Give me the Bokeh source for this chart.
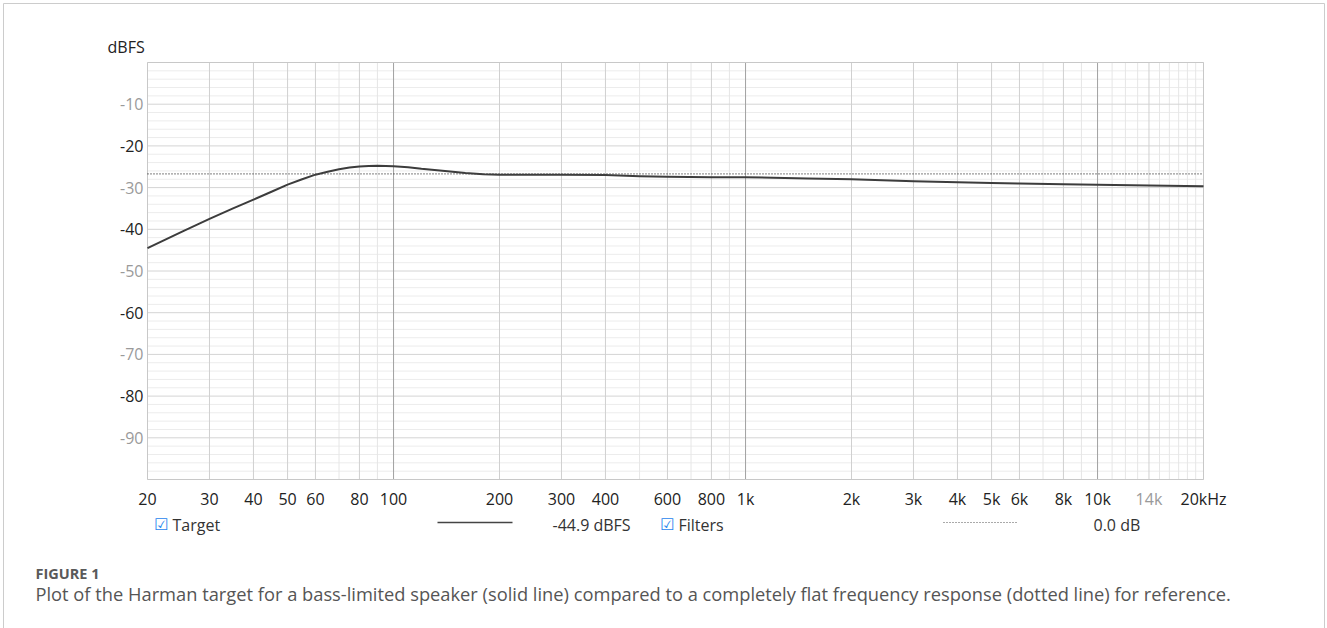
import math
from bokeh.plotting import figure
from bokeh.models import ColumnDataSource
from bokeh.core.properties import value
from bokeh.embed import file_html
from bokeh.resources import INLINE

# ---------------- data ----------------
freq_hz = [20, 25, 30, 35, 40, 45, 50, 55, 60, 65, 70, 75, 80, 85, 90, 95, 100,
           110, 120, 140, 160, 180, 200, 300, 400, 500, 600, 800, 1000, 1500,
           2000, 3000, 4000, 5000, 6000, 8000, 10000, 14000, 20000]
target_dbfs = [-44.5, -40.6, -37.5, -35.0, -32.9, -31.0, -29.3, -28.0, -26.9,
               -26.2, -25.6, -25.2, -24.95, -24.8, -24.75, -24.8, -24.9,
               -25.1, -25.5, -26.0, -26.5, -26.8, -26.9, -26.9, -27.0, -27.3,
               -27.4, -27.5, -27.5, -27.8, -28.0, -28.5, -28.7, -28.9, -29.0,
               -29.2, -29.3, -29.5, -29.7]
flat_freq = [20, 20000]
flat_dbfs = [-26.7, -26.7]

x_tick_values = [20, 30, 40, 50, 60, 80, 100, 200, 300, 400, 600, 800, 1000,
                 2000, 3000, 4000, 5000, 6000, 8000, 10000, 14000, 20000]
x_tick_labels = ["20", "30", "40", "50", "60", "80", "100", "200", "300", "400",
                 "600", "800", "1k", "2k", "3k", "4k", "5k", "6k", "8k", "10k",
                 "14k", "20kHz"]
x_tick_colors = ["#222222"] * 20 + ["#9a9a9a", "#222222"]
x_minor_values = [70, 90, 500, 700, 900, 7000, 9000, 11000, 12000, 13000,
                  15000, 16000, 17000, 18000, 19000]
x_decade_values = [100, 1000, 10000]

y_tick_values = [-10, -20, -30, -40, -50, -60, -70, -80, -90]
y_tick_labels = ["-10", "-20", "-30", "-40", "-50", "-60", "-70", "-80", "-90"]
y_tick_colors = ["#9a9a9a", "#222222"] * 4 + ["#9a9a9a"]
y_minor_values = [v for v in range(-98, 0, 2) if v % 10 != 0]

legend_texts = ["Target", "-44.9 dBFS", "Filters", "0.0 dB"]
caption_head = "FIGURE 1"
caption_text = ("Plot of the Harman target for a bass-limited speaker (solid line) "
                "compared to a completely flat frequency response (dotted line) for reference.")

# ---------------- layout ----------------
W, H = 1327, 628
FL, FR, FT, FB = 147, 1203, 62, 479          # plot-area pixel box
X0, X1, Y0, Y1 = 20.0, 20000.0, -100.0, 0.0  # plot-area data box
dec_px = (FR - FL) / math.log10(X1 / X0)
db_px = (FB - FT) / (Y1 - Y0)


def fx(px):
    return X0 * 10 ** ((px - FL) / dec_px)


def fy(py):
    return Y1 - (py - FT) / db_px


FONT = value("Open Sans")

p = figure(width=W, height=H, x_axis_type="log",
           x_range=(fx(0), fx(W)), y_range=(fy(H), fy(0)),
           output_backend="svg", toolbar_location=None,
           min_border=0, min_border_left=0, min_border_right=0,
           min_border_top=0, min_border_bottom=0)
p.xaxis.visible = False
p.yaxis.visible = False
p.xgrid.visible = False
p.ygrid.visible = False
p.outline_line_color = None
p.background_fill_color = "white"
p.border_fill_color = "white"


def vlines(ticks, color):
    p.segment(x0=ticks, x1=ticks, y0=[Y0] * len(ticks), y1=[Y1] * len(ticks),
              line_color=color, line_width=1)


def hlines(ticks, color):
    p.segment(x0=[X0] * len(ticks), x1=[X1] * len(ticks), y0=ticks, y1=ticks,
              line_color=color, line_width=1)


# grids
hlines(y_minor_values, "#ececec")
vlines(x_minor_values, "#e6e6e6")
hlines(y_tick_values, "#d4d4d4")
vlines(x_tick_values, "#d0d0d0")
vlines(x_decade_values, "#a4a4a4")
# plot-area outline
p.quad(left=[X0], right=[X1], bottom=[Y0], top=[Y1], fill_alpha=0,
       line_color="#c8c8c8", line_width=1)

# data lines
p.line(flat_freq, flat_dbfs, line_color="#333333", line_width=1.2,
       line_dash="1 2")
p.line(freq_hz, target_dbfs, line_color="#3c3c3c", line_width=2,
       line_join="round")

# tick labels
ysrc = ColumnDataSource(dict(x=[fx(FL - 4)] * len(y_tick_values), y=y_tick_values,
                             t=y_tick_labels, c=y_tick_colors))
p.text(x="x", y="y", text="t", source=ysrc, text_align="right",
       text_baseline="middle", text_color="c", text_font=FONT,
       text_font_size="16px")
xsrc = ColumnDataSource(dict(x=x_tick_values, y=[fy(498)] * len(x_tick_values),
                             t=x_tick_labels, c=x_tick_colors))
p.text(x="x", y="y", text="t", source=xsrc, text_align="center",
       text_baseline="middle", text_color="c", text_font=FONT,
       text_font_size="16px")
p.text(x=[fx(107)], y=[fy(46)], text=["dBFS"], text_align="left",
       text_baseline="middle", text_color="#222222", text_font=FONT,
       text_font_size="16px")

# legend row
LY = fy(524)
p.text(x=[fx(161), fx(667)], y=[LY, LY], text=["\u2611", "\u2611"],
       text_align="center", text_baseline="middle", text_color="#1f86ee",
       text_font=value("DejaVu Sans"), text_font_size="16px",
       text_font_style="bold")
p.text(x=[fx(172), fx(552), fx(678), fx(1093)], y=[LY] * 4, text=legend_texts,
       text_align="left", text_baseline="middle", text_color="#333333",
       text_font=FONT, text_font_size="16px")
p.line([fx(437), fx(512)], [fy(522), fy(522)], line_color="#444444",
       line_width=1.5)
p.line([fx(943), fx(1018)], [fy(522), fy(522)], line_color="#555555",
       line_width=1, line_dash="1 2")

# caption
p.text(x=[fx(35)], y=[fy(573)], text=[caption_head], text_align="left",
       text_baseline="middle", text_color="#5a5a5a", text_font=FONT,
       text_font_size="14.5px", text_font_style="bold")
p.text(x=[fx(35)], y=[fy(593)], text=[caption_text], text_align="left",
       text_baseline="middle", text_color="#555555", text_font=FONT,
       text_font_size="18.3px")

# outer frame
p.quad(left=[fx(3)], right=[fx(1324)], bottom=[fy(660)], top=[fy(3)],
       fill_alpha=0, line_color="#cccccc", line_width=1)

open("out.html", "w").write(file_html(p, INLINE))
